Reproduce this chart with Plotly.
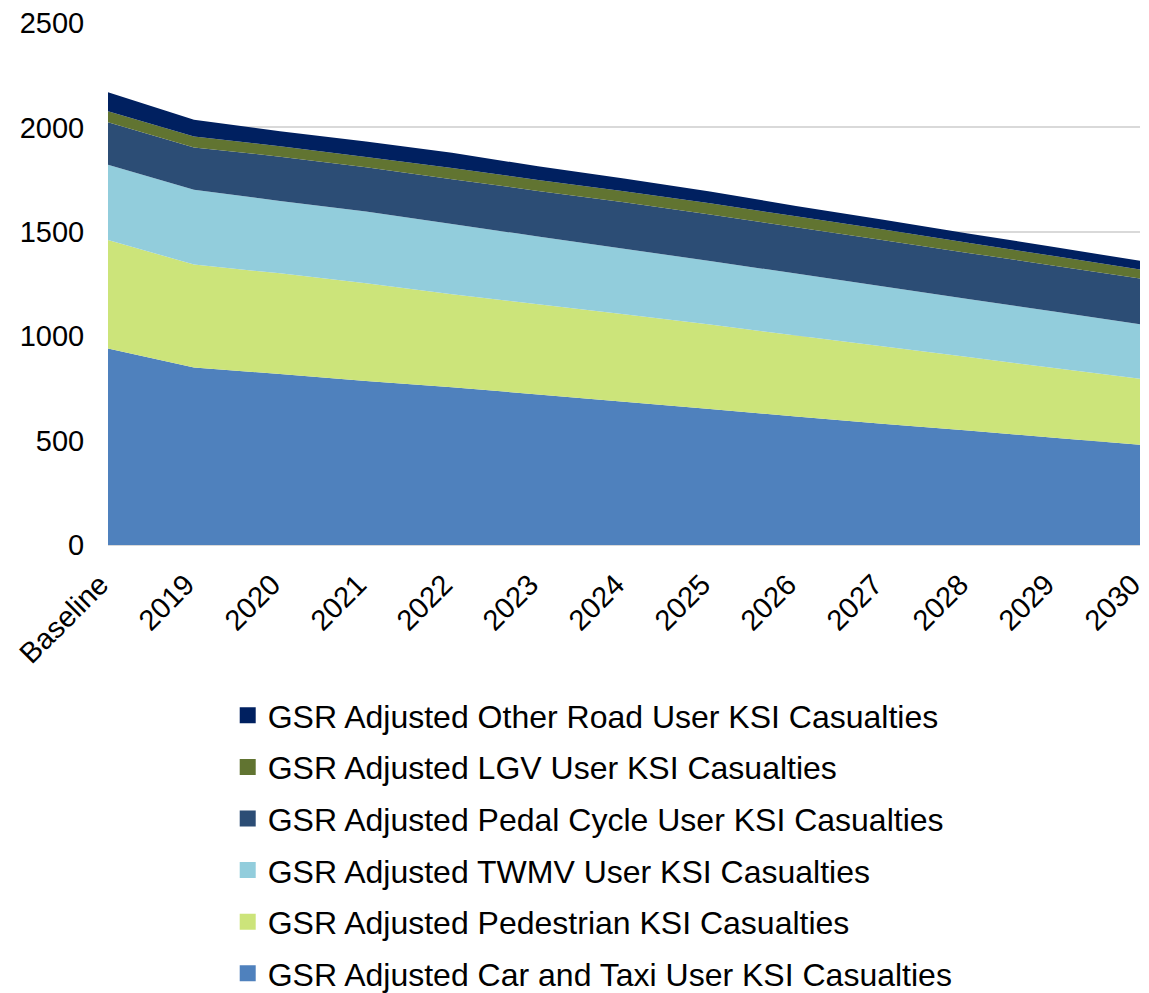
import plotly.graph_objects as go

categories = ["Baseline", "2019", "2020", "2021", "2022", "2023", "2024",
              "2025", "2026", "2027", "2028", "2029", "2030"]

car_taxi = [941, 850, 819, 785, 756, 721, 686, 651, 615, 581, 548, 514, 480]
pedestrian = [520, 493, 482, 468, 445, 432, 419, 405, 388, 371, 352, 334, 316]
twmv = [360, 358, 347, 344, 336, 325, 314, 304, 297, 287, 278, 270, 261]
pedal_cycle = [204, 203, 212, 212, 215, 218, 222, 223, 222, 222, 221, 220, 219]
lgv = [52, 53, 50, 49, 54, 52, 53, 54, 52, 51, 48, 46, 44]
other = [91, 80, 71, 75, 72, 66, 61, 56, 50, 47, 45, 43, 41]

series = [
    ("GSR Adjusted Car and Taxi User KSI Casualties", car_taxi, "#4F81BD"),
    ("GSR Adjusted Pedestrian KSI Casualties", pedestrian, "#CCE47A"),
    ("GSR Adjusted TWMV User KSI Casualties", twmv, "#92CDDC"),
    ("GSR Adjusted Pedal Cycle User KSI Casualties", pedal_cycle, "#2C4D75"),
    ("GSR Adjusted LGV User KSI Casualties", lgv, "#617431"),
    ("GSR Adjusted Other Road User KSI Casualties", other, "#002060"),
]

fig = go.Figure()
for name, vals, color in series:
    fig.add_trace(go.Scatter(
        x=categories, y=vals, name=name, mode="none",
        stackgroup="one", fillcolor=color, line=dict(width=0),
        showlegend=False, hoverinfo="x+y+name",
    ))
# legend entries, top to bottom as in the reference
for name, vals, color in reversed(series):
    fig.add_trace(go.Scatter(
        x=[None], y=[None], name=name, mode="markers",
        marker=dict(symbol="square", size=17, color=color),
        legendgroup=name, showlegend=True,
    ))

H = 1001
font_family = "Liberation Sans, Arial, sans-serif"
fig.update_layout(
    width=1141, height=H,
    margin=dict(l=100, r=9, t=15, b=H - 15 - 522),
    plot_bgcolor="white", paper_bgcolor="white",
    font=dict(family=font_family, color="#000000", size=28),
    xaxis=dict(
        type="category", categoryorder="array", categoryarray=categories,
        range=[0, 12], tickangle=-45, showgrid=False, showline=False,
        zeroline=False, ticks="outside", ticklen=10, tickcolor="rgba(0,0,0,0)",
        tickfont=dict(size=29), automargin=False, ticklabeloverflow="allow",
        ticklabelshift=-8,
    ),
    yaxis=dict(
        range=[0, 2500], tickvals=[0, 500, 1000, 1500, 2000, 2500],
        showgrid=True, gridcolor="#D9D9D9", gridwidth=2,
        zeroline=True, zerolinecolor="#D9D9D9", zerolinewidth=2,
        showline=False, ticks="outside", ticklen=17,
        tickcolor="rgba(0,0,0,0)", tickfont=dict(size=29), automargin=False,
        ticklabeloverflow="allow",
    ),
    legend=dict(
        xref="paper", x=0.116, xanchor="left",
        yref="container", y=1 - 680 / H, yanchor="top",
        orientation="v", traceorder="grouped", tracegroupgap=7,
        font=dict(size=32, family=font_family), itemsizing="trace",
        bgcolor="rgba(0,0,0,0)",
    ),
)

fig.write_html("out.html")
